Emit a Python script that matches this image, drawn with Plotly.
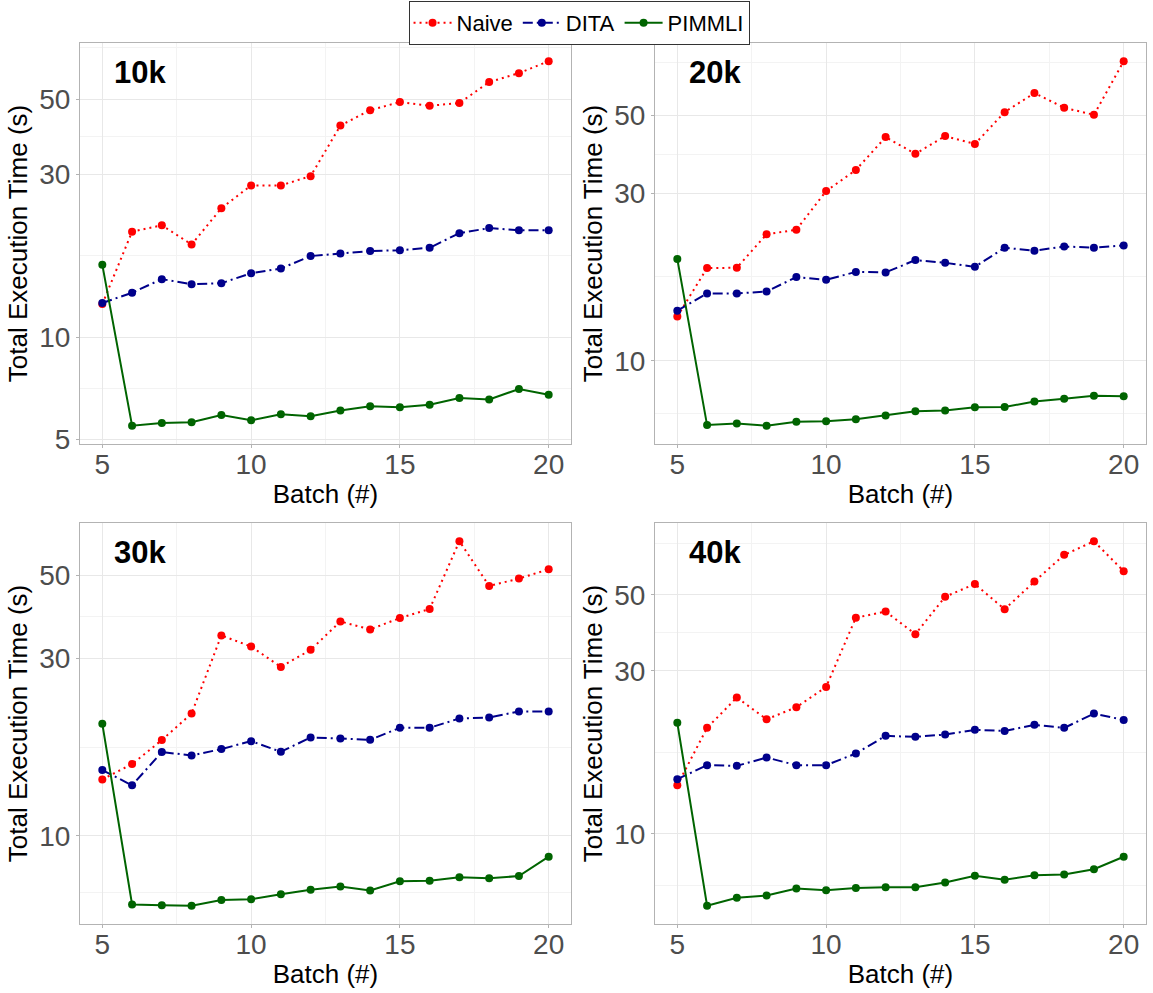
import math
import plotly.graph_objects as go

# Batch index shared by every panel
batches = [5, 6, 7, 8, 9, 10, 11, 12, 13, 14, 15, 16, 17, 18, 19, 20]

# Total execution time (s) per method and data size
naive_10k = [12.5, 20.4, 21.3, 18.7, 23.9, 27.9, 27.9, 29.7, 41.8, 46.4, 49.0, 47.8, 48.7, 56.1, 59.6, 64.6]
dita_10k = [12.6, 13.5, 14.8, 14.3, 14.4, 15.4, 15.9, 17.3, 17.6, 17.9, 18.0, 18.3, 20.2, 20.9, 20.6, 20.6]
pimmli_10k = [16.3, 5.49, 5.59, 5.62, 5.90, 5.70, 5.93, 5.86, 6.09, 6.26, 6.22, 6.33, 6.62, 6.56, 7.04, 6.77]

naive_20k = [13.37, 18.35, 18.4, 22.9, 23.6, 30.4, 34.9, 43.3, 38.8, 43.6, 41.4, 51.0, 57.8, 52.5, 50.1, 71.2]
dita_20k = [13.88, 15.54, 15.54, 15.75, 17.3, 17.0, 17.9, 17.84, 19.34, 19.0, 18.5, 20.97, 20.56, 21.15, 20.97, 21.29]
pimmli_20k = [19.47, 6.56, 6.63, 6.53, 6.70, 6.73, 6.82, 6.99, 7.18, 7.22, 7.37, 7.38, 7.66, 7.80, 7.95, 7.92]

naive_30k = [14.18, 15.59, 18.08, 21.3, 34.5, 32.2, 28.4, 31.55, 37.6, 35.8, 38.4, 40.6, 61.7, 46.8, 49.0, 51.9]
dita_30k = [15.02, 13.67, 16.79, 16.44, 17.1, 17.96, 16.82, 18.37, 18.26, 18.11, 19.5, 19.5, 20.66, 20.78, 21.57, 21.57]
pimmli_30k = [19.99, 6.55, 6.52, 6.50, 6.74, 6.77, 6.98, 7.18, 7.32, 7.14, 7.56, 7.59, 7.75, 7.70, 7.81, 8.80]

naive_40k = [13.88, 20.42, 25.05, 21.64, 23.47, 26.9, 42.9, 44.7, 38.4, 49.4, 53.8, 45.4, 54.7, 65.5, 71.8, 58.7]
dita_40k = [14.45, 15.88, 15.81, 16.72, 15.88, 15.88, 17.18, 19.35, 19.22, 19.52, 20.15, 20.0, 20.84, 20.42, 22.48, 21.55]
pimmli_40k = [21.12, 6.16, 6.50, 6.60, 6.92, 6.84, 6.94, 6.98, 6.98, 7.21, 7.54, 7.34, 7.57, 7.60, 7.88, 8.57]

panel_labels = ["10k", "20k", "30k", "40k"]
method_names = ["Naive", "DITA", "PIMMLI"]

# Axis ticks
x_ticks = [5, 10, 15, 20]
x_minor = [7.5, 12.5, 17.5]
y_ticks = [5, 10, 30, 50]
y_minor_grid = [7.07, 17.32, 38.73, 70.71]
logticks_short = [6, 7, 8, 9, 20, 30, 40, 60, 70, 80]
logticks_mid = [5, 50]
logticks_long = [10]

panels = [
    (naive_10k, dita_10k, pimmli_10k),
    (naive_20k, dita_20k, pimmli_20k),
    (naive_30k, dita_30k, pimmli_30k),
    (naive_40k, dita_40k, pimmli_40k),
]

colors = ["#FF0000", "#00008B", "#006400"]
dashes = ["2px,4px", "10px,4px,2px,4px", "solid"]

FONT = "Liberation Sans, Arial, Helvetica, sans-serif"
W, H = 1153, 993

# panel boxes in pixels: left, right, top, bottom
boxes = [
    (80, 571, 43, 444),
    (655, 1146, 43, 444),
    (80, 571, 523, 924),
    (655, 1146, 523, 924),
]

fig = go.Figure()

for k, series in enumerate(panels):
    idx = "" if k == 0 else str(k + 1)
    for m, vals in enumerate(series):
        fig.add_trace(go.Scatter(
            x=batches, y=vals, name=method_names[m],
            mode="lines+markers",
            line=dict(color=colors[m], width=2, dash=dashes[m]),
            marker=dict(color=colors[m], size=8),
            xaxis="x" + idx, yaxis="y" + idx,
            legendgroup=method_names[m], showlegend=(k == 0),
        ))

layout = dict(
    width=W, height=H,
    margin=dict(l=0, r=0, t=0, b=0),
    paper_bgcolor="white", plot_bgcolor="white",
    font=dict(family=FONT, color="black"),
    showlegend=True,
    legend=dict(
        orientation="h", x=0.5022, xanchor="center", y=0.999, yanchor="top",
        bordercolor="#333333", borderwidth=1, font=dict(size=22, family=FONT),
        bgcolor="white", itemwidth=38, tracegroupgap=0,
    ),
    annotations=[], shapes=[],
)

for k, series in enumerate(panels):
    n = k + 1
    idx = "" if k == 0 else str(n)
    left, right, top, bottom = boxes[k]
    xdom = [left / W, right / W]
    ydom = [1 - bottom / H, 1 - top / H]

    all_vals = [v for s in series for v in s]
    lo, hi = math.log10(min(all_vals)), math.log10(max(all_vals))
    pad = 0.05 * (hi - lo)
    yrange = [lo - pad, hi + pad]
    xpad = 0.05 * (max(batches) - min(batches))
    xrange = [min(batches) - xpad, max(batches) + xpad]

    layout["xaxis" + idx] = dict(
        domain=xdom, anchor="y" + idx, range=xrange,
        tickvals=x_ticks, ticks="outside", ticklen=3, tickcolor="#b3b3b3", tickwidth=1,
        tickfont=dict(size=28, color="#4d4d4d", family=FONT), ticklabelstandoff=-8,
        showgrid=True, gridcolor="#e8e8e8", gridwidth=1,
        minor=dict(tickvals=x_minor, showgrid=True, gridcolor="#f3f3f3", gridwidth=1, ticks=""),
        showline=True, linecolor="#b3b3b3", linewidth=1, mirror=True,
        zeroline=False, automargin=False,
        title=dict(text="Batch (#)", font=dict(size=26, color="black", family=FONT), standoff=6),
    )
    layout["yaxis" + idx] = dict(
        domain=ydom, anchor="x" + idx, type="log", range=yrange,
        tickvals=y_ticks, ticktext=[str(v) for v in y_ticks],
        ticks="outside", ticklen=3, tickcolor="#b3b3b3", tickwidth=1,
        tickfont=dict(size=28, color="#4d4d4d", family=FONT),
        showgrid=True, gridcolor="#e8e8e8", gridwidth=1,
        minor=dict(tickvals=y_minor_grid, showgrid=True, gridcolor="#f3f3f3", gridwidth=1, ticks=""),
        showline=True, linecolor="#b3b3b3", linewidth=1, mirror=True,
        zeroline=False, automargin=False,
        title=dict(text="Total Execution Time (s)", font=dict(size=26, color="black", family=FONT), standoff=4),
    )
    # log tick marks drawn inside the panel: long at 10, short elsewhere
    layout["yaxis" + str(4 + n)] = dict(
        overlaying="y" + idx, anchor="x" + idx, side="left", type="log", range=yrange,
        tickvals=logticks_long, ticks="inside", ticklen=11, tickcolor="#b3b3b3", tickwidth=1,
        minor=dict(tickvals=logticks_short, ticks="inside", ticklen=5, tickcolor="#b3b3b3", showgrid=False),
        showticklabels=False, showgrid=False, showline=False, zeroline=False, automargin=False,
    )
    # medium log tick marks at 5 and 50
    layout["yaxis" + str(8 + n)] = dict(
        overlaying="y" + idx, anchor="x" + idx, side="left", type="log", range=yrange,
        tickvals=logticks_mid, ticks="inside", ticklen=8, tickcolor="#b3b3b3", tickwidth=1,
        showticklabels=False, showgrid=False, showline=False, zeroline=False, automargin=False,
    )
    layout["annotations"].append(dict(
        text="<b>" + panel_labels[k] + "</b>", xref="x" + idx + " domain", yref="y" + idx + " domain",
        x=0.066, y=0.927, xanchor="left", yanchor="middle", showarrow=False,
        font=dict(size=31, color="black", family=FONT),
    ))

fig.update_layout(**layout)
fig.write_html("out.html")
